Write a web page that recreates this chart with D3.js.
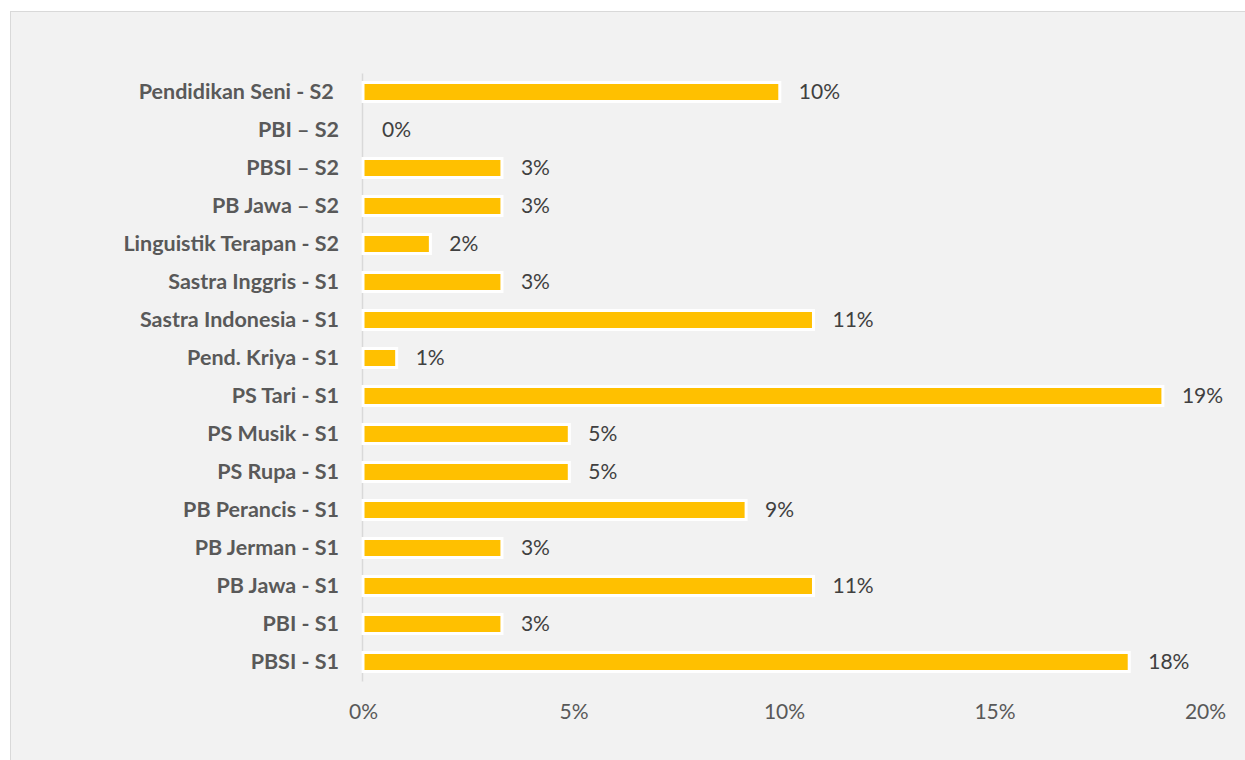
<!DOCTYPE html>
<html>
<head>
<meta charset="utf-8">
<script src="https://cdn.jsdelivr.net/npm/d3@7"></script>
<style>
  body { margin: 0; background: #fff; }
  svg { display: block; font-family: Lato, "Open Sans", sans-serif; }
</style>
</head>
<body>
<svg id="chart" width="1245" height="760"></svg>
<script>
// categories top to bottom, as in the chart
const categories = [
  "Pendidikan Seni - S2 ", "PBI \u2013 S2", "PBSI \u2013 S2", "PB Jawa \u2013 S2",
  "Linguistik Terapan - S2", "Sastra Inggris - S1", "Sastra Indonesia - S1",
  "Pend. Kriya - S1", "PS Tari - S1", "PS Musik - S1", "PS Rupa - S1",
  "PB Perancis - S1", "PB Jerman - S1", "PB Jawa - S1", "PBI - S1", "PBSI - S1"
];
// share of respondents (fraction)
const values = [
  0.099, 0.0, 0.033, 0.033,
  0.016, 0.033, 0.107,
  0.008, 0.190, 0.049, 0.049,
  0.091, 0.033, 0.107, 0.033, 0.182
];
const xTicks = [0, 0.05, 0.10, 0.15, 0.20];

const svg = d3.select("#chart");

// chart frame
svg.append("rect")
  .attr("x", 10.5).attr("y", 11.5)
  .attr("width", 1245).attr("height", 760)
  .attr("fill", "#f2f2f2")
  .attr("stroke", "#d9d9d9");

const x = d3.scaleLinear().domain([0, 0.20]).range([363, 1205]);
const y = d3.scaleBand().domain(categories).range([73, 681])
  .paddingInner(0.5).paddingOuter(0.25);
const pct = d3.format(".0%");

// x tick labels (no line, Excel style)
const xAxis = d3.axisBottom(x).tickValues(xTicks).tickFormat(pct).tickSize(0).tickPadding(0);
svg.append("g")
  .attr("transform", "translate(0,704)")
  .call(xAxis)
  .call(g => g.select(".domain").remove())
  .selectAll("text")
  .attr("font-family", "Lato, 'Open Sans', sans-serif")
  .attr("font-size", 21)
  .attr("fill", "#595959");

// y axis: category labels + vertical line
const yAxis = d3.axisLeft(y).tickSize(0).tickPadding(23);
svg.append("g")
  .attr("transform", "translate(362,0)")
  .call(yAxis)
  .call(g => g.select(".domain").attr("stroke", "#d9d9d9").attr("stroke-width", 1.5))
  .selectAll("text")
  .attr("font-family", "Lato, 'Open Sans', sans-serif")
  .attr("font-size", 21.5)
  .attr("font-weight", "bold")
  .attr("fill", "#595959")
  .style("white-space", "pre");

// bars
svg.append("g")
  .selectAll("rect")
  .data(values)
  .join("rect")
  .attr("x", x(0))
  .attr("y", (d, i) => y(categories[i]))
  .attr("width", d => x(d) - x(0))
  .attr("height", y.bandwidth())
  .attr("fill", "#ffc000")
  .attr("stroke", d => d > 0 ? "#ffffff" : "none")
  .attr("stroke-width", 3);

// value labels
svg.append("g")
  .selectAll("text")
  .data(values)
  .join("text")
  .attr("x", d => x(d) + 19)
  .attr("y", (d, i) => y(categories[i]) + y.bandwidth() / 2)
  .attr("dy", "0.35em")
  .attr("font-size", 21)
  .attr("fill", "#404040")
  .text(d => pct(d));
</script>
</body>
</html>
